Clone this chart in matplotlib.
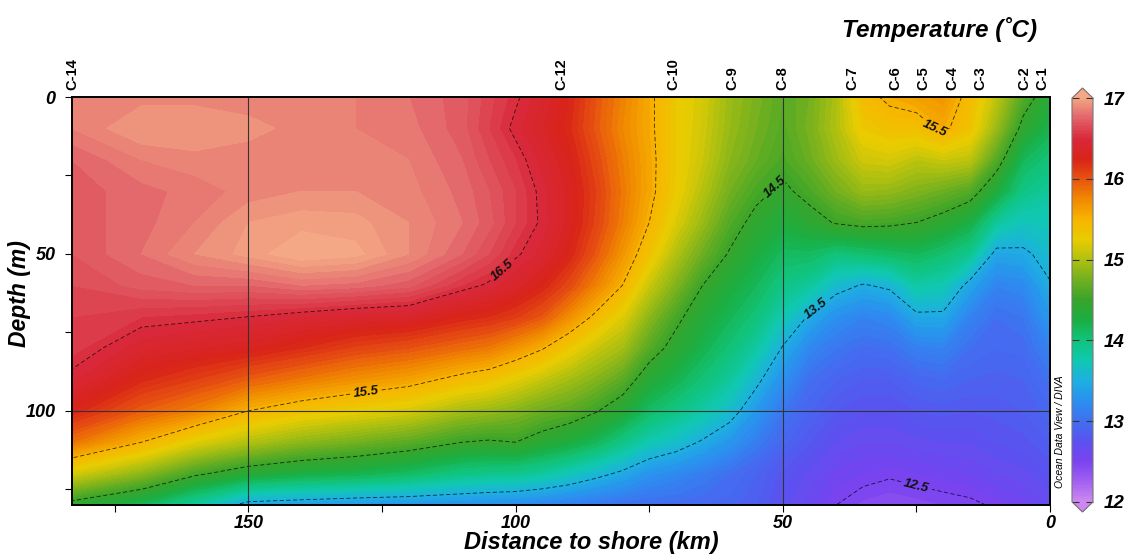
import numpy as np
import matplotlib
matplotlib.use('Agg')
import matplotlib.pyplot as plt
from matplotlib.colors import LinearSegmentedColormap, Normalize
from matplotlib.cm import ScalarMappable

plt.rcParams['font.family'] = ['Liberation Sans', 'DejaVu Sans']
plt.rcParams['lines.dashed_pattern'] = [3, 1.8]
plt.rcParams['lines.scale_dashes'] = False

# section grid (distance to shore in km, depth in m)
distance_km = [183, 170, 160, 150, 140, 130, 120, 110, 105, 100, 95, 90, 85, 80, 75,
               70, 65, 60, 55, 50, 45, 40, 35, 30, 25, 20, 15, 10, 5, 0]
depth_m = [0, 10, 20, 30, 40, 50, 60, 70, 80, 90, 100, 110, 120, 130]

# temperature profiles, one list per distance (top to bottom)
temp_profiles = [
    [16.85, 16.85, 16.75, 16.72, 16.72, 16.70, 16.65, 16.60, 16.58, 16.46, 16.25, 15.85, 15.15, 14.40],
    [16.88, 16.95, 16.85, 16.78, 16.78, 16.80, 16.72, 16.55, 16.40, 16.22, 15.95, 15.50, 14.85, 14.15],
    [16.88, 16.95, 16.88, 16.82, 16.85, 16.90, 16.75, 16.53, 16.35, 16.10, 15.78, 15.20, 14.55, 13.80],
    [16.87, 16.92, 16.87, 16.87, 16.95, 16.97, 16.75, 16.50, 16.30, 15.95, 15.50, 15.00, 14.35, 13.40],
    [16.87, 16.88, 16.87, 16.90, 16.98, 17.05, 16.80, 16.45, 16.20, 15.82, 15.35, 14.85, 14.25, 13.35],
    [16.85, 16.85, 16.88, 16.90, 16.97, 17.02, 16.78, 16.40, 16.08, 15.70, 15.25, 14.75, 14.20, 13.30],
    [16.80, 16.82, 16.85, 16.87, 16.90, 16.90, 16.72, 16.38, 16.00, 15.60, 15.15, 14.65, 14.10, 13.28],
    [16.72, 16.72, 16.75, 16.78, 16.80, 16.75, 16.55, 16.25, 15.88, 15.42, 14.95, 14.50, 13.95, 13.25],
    [16.62, 16.60, 16.65, 16.70, 16.72, 16.65, 16.48, 16.20, 15.82, 15.35, 14.90, 14.47, 13.92, 13.22],
    [16.52, 16.47, 16.55, 16.60, 16.60, 16.52, 16.38, 16.12, 15.68, 15.22, 14.82, 14.50, 13.90, 13.20],
    [16.40, 16.35, 16.42, 16.47, 16.48, 16.42, 16.25, 15.98, 15.52, 15.08, 14.72, 14.38, 13.83, 13.15],
    [16.25, 16.22, 16.28, 16.32, 16.32, 16.25, 16.05, 15.72, 15.30, 14.95, 14.65, 14.28, 13.72, 13.10],
    [16.00, 15.98, 16.05, 16.10, 16.08, 15.98, 15.78, 15.45, 15.10, 14.82, 14.52, 14.15, 13.58, 13.05],
    [15.78, 15.75, 15.80, 15.83, 15.80, 15.68, 15.50, 15.20, 14.95, 14.65, 14.35, 13.95, 13.45, 13.00],
    [15.55, 15.55, 15.57, 15.57, 15.50, 15.35, 15.10, 14.85, 14.63, 14.35, 14.10, 13.75, 13.28, 12.98],
    [15.30, 15.30, 15.30, 15.28, 15.18, 15.00, 14.80, 14.57, 14.40, 14.20, 13.95, 13.63, 13.20, 12.97],
    [15.15, 15.13, 15.10, 15.02, 14.90, 14.72, 14.50, 14.33, 14.20, 14.02, 13.80, 13.47, 13.10, 12.95],
    [14.92, 14.90, 14.85, 14.75, 14.62, 14.48, 14.30, 14.17, 14.02, 13.85, 13.62, 13.30, 13.00, 12.93],
    [14.78, 14.75, 14.70, 14.57, 14.42, 14.28, 14.15, 14.00, 13.82, 13.57, 13.32, 13.10, 12.90, 12.85],
    [14.65, 14.63, 14.58, 14.45, 14.30, 14.12, 13.95, 13.75, 13.48, 13.25, 13.05, 12.92, 12.78, 12.72],
    [14.75, 14.77, 14.72, 14.58, 14.40, 14.12, 13.85, 13.47, 13.18, 13.00, 12.90, 12.80, 12.68, 12.62],
    [14.98, 15.00, 14.92, 14.75, 14.52, 14.00, 13.60, 13.25, 13.05, 12.90, 12.80, 12.70, 12.58, 12.50],
    [15.42, 15.30, 15.12, 14.90, 14.57, 14.05, 13.48, 13.15, 12.98, 12.85, 12.75, 12.65, 12.55, 12.43],
    [15.55, 15.38, 15.15, 14.88, 14.55, 14.10, 13.55, 13.20, 13.00, 12.85, 12.75, 12.65, 12.52, 12.40],
    [15.62, 15.38, 15.05, 14.80, 14.50, 14.15, 13.80, 13.45, 13.12, 12.92, 12.80, 12.68, 12.55, 12.42],
    [15.68, 15.55, 15.10, 14.72, 14.40, 14.05, 13.75, 13.45, 13.15, 12.95, 12.82, 12.70, 12.57, 12.45],
    [15.42, 15.35, 15.05, 14.62, 14.25, 13.90, 13.42, 13.15, 13.00, 12.90, 12.80, 12.70, 12.60, 12.47],
    [15.05, 14.90, 14.62, 14.30, 13.85, 13.42, 13.15, 13.00, 12.95, 12.88, 12.82, 12.75, 12.65, 12.52],
    [14.62, 14.42, 14.15, 13.95, 13.70, 13.45, 13.20, 13.05, 12.97, 12.90, 12.85, 12.78, 12.68, 12.57],
    [14.35, 14.20, 14.00, 13.85, 13.72, 13.60, 13.48, 13.32, 13.15, 13.02, 12.93, 12.85, 12.75, 12.65],
]

station_names = ['C-14', 'C-12', 'C-10', 'C-9', 'C-8', 'C-7', 'C-6', 'C-5', 'C-4', 'C-3', 'C-2', 'C-1']
station_km = [183, 91.5, 70.5, 59.5, 50, 37, 29, 23.7, 18.2, 13, 4.8, 1.5]

contour_levels = [12.5, 13.5, 14.5, 15.5, 16.5]
label_spots = [(102, 56), (128, 94), (22, 11), (52, 28), (44, 67), (25, 124)]

# ODV-like palette
pal_values = [12.0, 12.25, 12.5, 12.75, 13.0, 13.25, 13.5, 13.75, 14.0, 14.25, 14.5,
              14.75, 15.0, 15.25, 15.5, 15.75, 16.0, 16.25, 16.5, 16.75, 17.0]
pal_colors = ['#cc88f0', '#a060f0', '#7a42f0', '#5a52f0', '#4070f0', '#2a90f0', '#1cb0e0',
              '#10c8b0', '#10c47c', '#1aae42', '#38a42a', '#70b020', '#b0c010', '#e8cc00',
              '#f8b400', '#f08a00', '#e85410', '#d82418', '#d8283a', '#e26068', '#f2a482']
cmap = LinearSegmentedColormap.from_list(
    'odv', [((v - 12.0) / 5.0, c) for v, c in zip(pal_values, pal_colors)])
cmap.set_over('#f4a886')
cmap.set_under('#cc88f0')
norm = Normalize(12, 17)

X, Y = np.meshgrid(distance_km, depth_m)
T = np.array(temp_profiles).T

fig = plt.figure(figsize=(11.34, 5.6), dpi=100)
ax = fig.add_axes([72 / 1134, 55 / 560, 978 / 1134, 408 / 560])

ax.contourf(X, Y, T, levels=np.linspace(12, 17, 101), cmap=cmap, norm=norm, extend='both')
cs = ax.contour(X, Y, T, levels=contour_levels, colors='k', linewidths=0.6,
                linestyles='dashed', alpha=0.75)
labels = ax.clabel(cs, manual=label_spots, fmt='%.1f', fontsize=9.5, inline=True, inline_spacing=3)
for t in labels:
    t.set_fontweight('bold')
    t.set_fontstyle('italic')
    t.set_color('#111111')

ax.axvline(150, color='#333333', lw=0.8)
ax.axvline(50, color='#333333', lw=0.8)
ax.axhline(100, color='#333333', lw=0.8)

ax.set_xlim(183, 0)
ax.set_ylim(130, 0)
ax.set_xticks([150, 100, 50, 0])
ax.set_xticks([175, 125, 75, 25], minor=True)
ax.set_yticks([0, 50, 100])
ax.set_yticks([25, 75, 125], minor=True)
ax.tick_params(which='both', direction='out', length=5, width=0.8, labelsize=13, pad=2)
ax.tick_params(axis='y', pad=7)
for lbl in ax.get_xticklabels() + ax.get_yticklabels():
    lbl.set_fontweight('bold')
    lbl.set_fontstyle('italic')
for s in ax.spines.values():
    s.set_linewidth(1.4)

fig.text(20 / 1134, 1 - 294 / 560, 'Depth (m)', fontsize=16.5, fontweight='bold',
         fontstyle='italic', rotation=90, ha='center', va='center')
fig.text(591 / 1134, 1 - 543 / 560, 'Distance to shore (km)', fontsize=17,
         fontweight='bold', fontstyle='italic', ha='center', va='center')

top = ax.secondary_xaxis('top')
top.set_xticks(station_km, labels=station_names)
top.tick_params(length=0, pad=5, labelsize=10.5, rotation=90)
for lbl in top.get_xticklabels():
    lbl.set_fontweight('bold')
top.spines['top'].set_visible(False)

fig.text(1037 / 1134, 1 - 30 / 560, 'Temperature (˚C)', fontsize=17.5,
         fontweight='bold', fontstyle='italic', ha='right', va='center')
fig.text(1060 / 1134, 1 - 432 / 560, 'Ocean Data View / DIVA', fontsize=7.5,
         fontstyle='italic', rotation=90, ha='center', va='center')

cax = fig.add_axes([1072 / 1134, 1 - 512 / 560, 21 / 1134, 424 / 560])
cb = fig.colorbar(ScalarMappable(norm=norm, cmap=cmap), cax=cax, extend='both',
                  extendfrac=0.025, ticks=[12, 13, 14, 15, 16, 17])
cb.outline.set_edgecolor('#777777')
cb.outline.set_linewidth(0.8)
cax.tick_params(axis='y', direction='in', length=5, width=0.8, left=True, right=True,
                labelsize=13.5, pad=8, color='#333333')
for lbl in cax.get_yticklabels():
    lbl.set_fontweight('bold')
    lbl.set_fontstyle('italic')

fig.savefig('out.png', dpi=100)
